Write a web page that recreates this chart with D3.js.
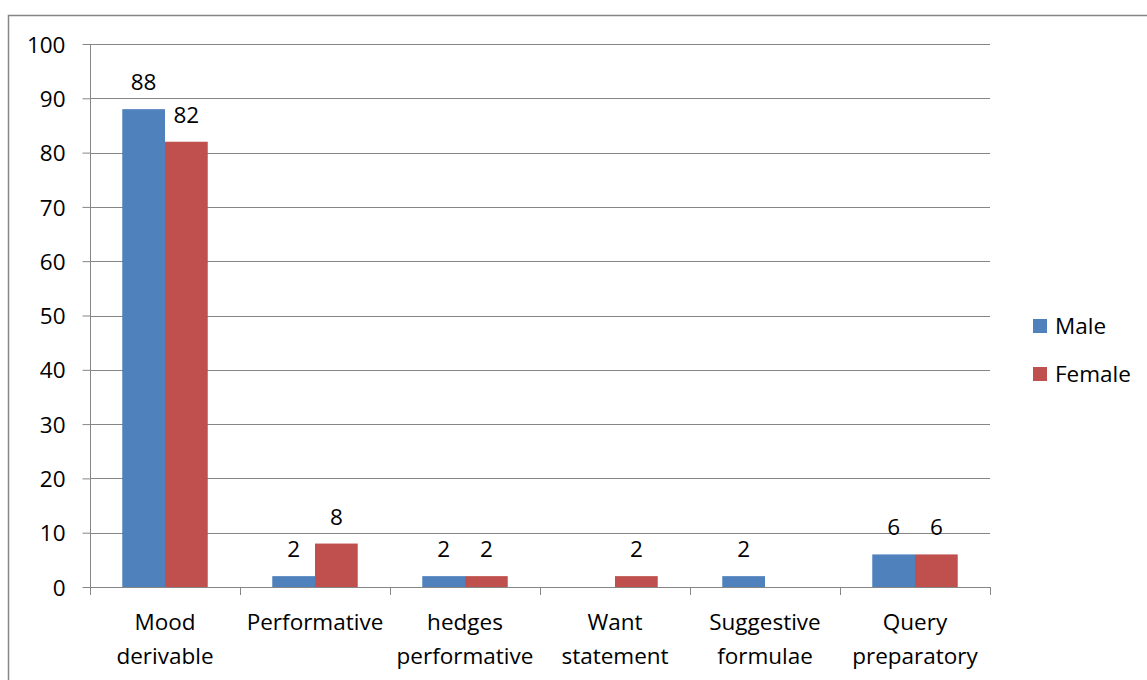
<!DOCTYPE html>
<html>
<head>
<meta charset="utf-8">
<script src="https://cdn.jsdelivr.net/npm/d3@7"></script>
<style>
  html, body { margin: 0; padding: 0; background: #fff; }
  svg { display: block; font-family: "Open Sans", Lato, sans-serif; }
</style>
</head>
<body>
<svg id="chart" width="1147" height="680"></svg>
<script>
// Request strategies by gender (percent)
const categories = [
  ["Mood", "derivable"],
  ["Performative"],
  ["hedges", "performative"],
  ["Want", "statement"],
  ["Suggestive", "formulae"],
  ["Query", "preparatory"]
];
const seriesNames = ["Male", "Female"];
const maleValues = [88, 2, 2, 0, 2, 6];
const femaleValues = [82, 8, 2, 2, 0, 6];
// null means the bar carries no label
const maleLabels = [88, 2, 2, null, 2, 6];
const femaleLabels = [82, 8, 2, 2, null, 6];
const yTicks = [0, 10, 20, 30, 40, 50, 60, 70, 80, 90, 100];
const colors = ["#4F81BD", "#C0504D"];

const svg = d3.select("#chart");
const plotLeft = 90, plotRight = 990, plotTop = 44, plotBottom = 587;
const fontSize = 22.5;
const fontFamily = "'Open Sans', Lato, sans-serif";

// Outer chart frame
svg.append("rect")
  .attr("x", 8.5).attr("y", 15.5)
  .attr("width", 1160).attr("height", 700)
  .attr("fill", "none").attr("stroke", "#868686").attr("stroke-width", 1.5);

const x = d3.scaleBand().domain(d3.range(categories.length)).range([plotLeft, plotRight]);
const inner = d3.scaleBand().domain([0, 1]).range([0, x.bandwidth()]).paddingOuter(0.755).paddingInner(0);
const y = d3.scaleLinear().domain([0, 100]).range([plotBottom, plotTop]);

// Horizontal gridlines
svg.append("g").selectAll("line").data(yTicks).join("line")
  .attr("x1", plotLeft).attr("x2", plotRight)
  .attr("y1", d => Math.round(y(d)) + 0.5).attr("y2", d => Math.round(y(d)) + 0.5)
  .attr("stroke", "#868686").attr("stroke-width", 1);

// Bars
const data = categories.map((c, i) => [maleValues[i], femaleValues[i]]);
const labels = categories.map((c, i) => [maleLabels[i], femaleLabels[i]]);
const groups = svg.append("g").selectAll("g").data(data).join("g")
  .attr("transform", (d, i) => `translate(${x(i)},0)`);
groups.selectAll("rect").data(d => d.map((v, s) => ({v, s}))).join("rect")
  .attr("x", d => inner(d.s))
  .attr("width", inner.bandwidth())
  .attr("y", d => y(d.v))
  .attr("height", d => y(0) - y(d.v))
  .attr("fill", d => colors[d.s]);

// Value labels above bars
groups.each(function(d, i) {
  d3.select(this).selectAll("text").data(d.map((v, s) => ({v, s, lab: labels[i][s]})).filter(e => e.lab !== null))
    .join("text")
    .attr("x", e => inner(e.s) + inner.bandwidth() / 2)
    .attr("y", e => y(e.v) - 19)
    .attr("text-anchor", "middle")
    .attr("font-size", fontSize)
    .attr("fill", "#000")
    .text(e => e.lab);
});

// Y axis
const yAxis = svg.append("g").attr("transform", `translate(${plotLeft + 0.5},0)`)
  .call(d3.axisLeft(y).tickValues(yTicks).tickSize(8).tickPadding(17));
yAxis.select(".domain").attr("stroke", "#868686").attr("d", `M0,${plotTop}V${plotBottom + 0.5}`);
yAxis.selectAll(".tick line").attr("stroke", "#868686");
yAxis.selectAll(".tick text").attr("font-size", fontSize).attr("fill", "#000")
  .attr("font-family", fontFamily).attr("dy", "0.36em");

// X axis baseline with category separator ticks
const xg = svg.append("g");
xg.append("line").attr("x1", plotLeft).attr("x2", plotRight)
  .attr("y1", plotBottom + 0.5).attr("y2", plotBottom + 0.5).attr("stroke", "#868686");
xg.selectAll("line.sep").data(d3.range(categories.length + 1)).join("line")
  .attr("class", "sep")
  .attr("x1", i => Math.round(plotLeft + i * x.step()) + 0.5)
  .attr("x2", i => Math.round(plotLeft + i * x.step()) + 0.5)
  .attr("y1", plotBottom).attr("y2", plotBottom + 8)
  .attr("stroke", "#868686");

// Category labels (wrapped)
xg.selectAll("text.cat").data(categories).join("text")
  .attr("class", "cat")
  .attr("text-anchor", "middle")
  .attr("font-size", fontSize)
  .attr("fill", "#000")
  .each(function(lines, i) {
    const t = d3.select(this);
    lines.forEach((ln, k) => {
      t.append("tspan")
        .attr("x", x(i) + x.bandwidth() / 2)
        .attr("y", 630 + k * 33.5)
        .text(ln);
    });
  });

// Legend
const legend = svg.append("g").selectAll("g").data(seriesNames).join("g")
  .attr("transform", (d, i) => `translate(1033,${319 + i * 48})`);
legend.append("rect").attr("width", 14).attr("height", 14).attr("fill", (d, i) => colors[i]);
legend.append("text").attr("x", 22).attr("y", 15)
  .attr("font-size", fontSize).attr("fill", "#000").text(d => d);
</script>
</body>
</html>
